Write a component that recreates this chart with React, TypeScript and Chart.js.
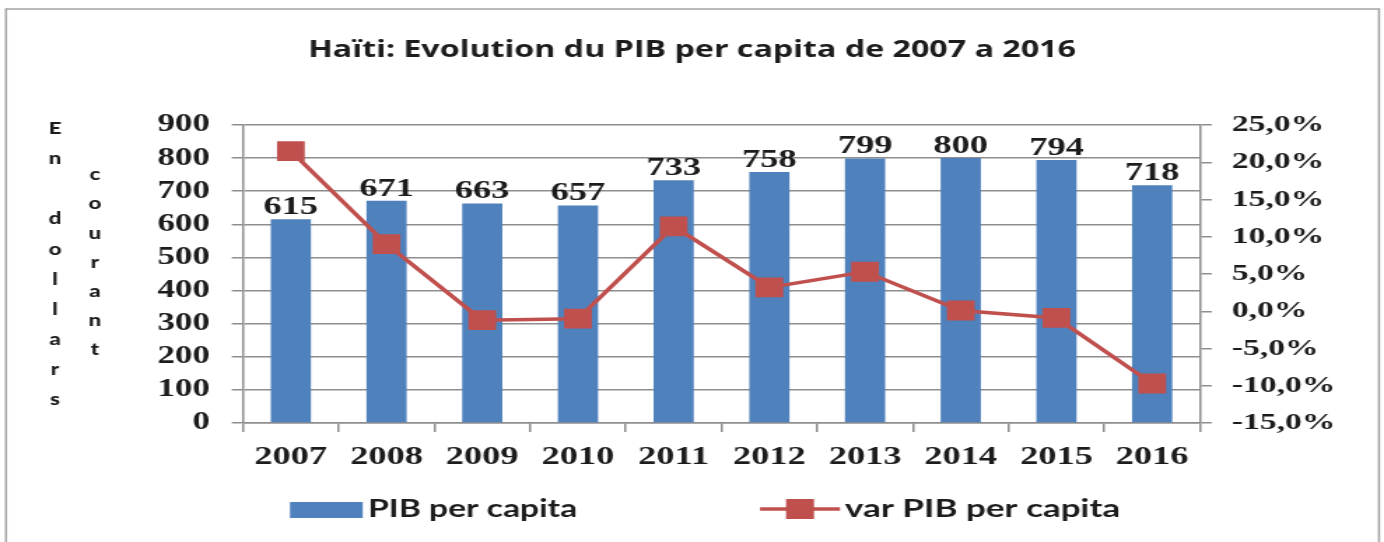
import React, { useEffect, useRef } from 'react';
import { Chart, registerables } from 'chart.js';

Chart.register(...registerables);

// ---- data ----
const categories = ['2007', '2008', '2009', '2010', '2011', '2012', '2013', '2014', '2015', '2016'];
const pibPerCapita = [615, 671, 663, 657, 733, 758, 799, 800, 794, 718];
const varPibPerCapita = [21.5, 9.0, -1.2, -1.0, 11.4, 3.2, 5.3, 0.1, -0.9, -9.7];
const titleText = 'Haïti: Evolution du PIB per capita de 2007 a 2016';
const axisLabelCol1 = ['E', 'n', '', 'd', 'o', 'l', 'l', 'a', 'r', 's'];
const axisLabelCol2 = ['c', 'o', 'u', 'r', 'a', 'n', 't'];
const legendLabels = ['PIB per capita', 'var PIB per capita'];

// ---- geometry (canvas is drawn narrow and stretched horizontally) ----
const OUT_W = 1384;
const OUT_H = 542;
const CW = 989;
const CH = 542;
const SX = OUT_W / CW;
const cx = (refX: number) => refX / SX;

const BLUE = '#4F81BD';
const RED = '#C0504D';
const GRID = '#8e8e8e';
const TXT = '#1c1c1c';
const SERIF = '"Liberation Serif", "Times New Roman", serif';
const SANS = 'Lato, "Open Sans", sans-serif';
const TITLE_FONT = '"Open Sans", Lato, sans-serif';

const PLOT_LEFT = cx(243);
const PLOT_RIGHT = cx(1200);
const PLOT_TOP = 125;
const PLOT_BOTTOM = 423;

const decorPlugin = {
  id: 'decor',
  beforeDraw(chart: any) {
    const ctx = chart.ctx;
    ctx.save();
    ctx.fillStyle = '#ffffff';
    ctx.fillRect(0, 0, CW, CH);
    ctx.strokeStyle = '#a3a3a3';
    ctx.lineWidth = 1.5;
    ctx.strokeRect(cx(6), 9, cx(1379) - cx(6), CH + 20);
    ctx.restore();
  },
  afterDatasetsDraw(chart: any) {
    const ctx = chart.ctx;
    ctx.save();
    const meta = chart.getDatasetMeta(1);
    ctx.font = `bold 26px ${SERIF}`;
    ctx.fillStyle = TXT;
    ctx.textAlign = 'center';
    ctx.textBaseline = 'alphabetic';
    meta.data.forEach((el: any, i: number) => {
      ctx.fillText(String(pibPerCapita[i]), el.x, el.y - 5);
    });
    ctx.restore();
  },
  afterDraw(chart: any) {
    const ctx = chart.ctx;
    ctx.save();
    // title
    ctx.fillStyle = TXT;
    ctx.font = `bold 23px ${TITLE_FONT}`;
    ctx.textAlign = 'center';
    ctx.textBaseline = 'alphabetic';
    ctx.fillText(titleText, cx(692), 57);
    // vertical axis label
    ctx.font = `900 16px ${SANS}`;
    ctx.textBaseline = 'middle';
    axisLabelCol1.forEach((ch, i) => {
      if (ch) ctx.fillText(ch, cx(55), 129 + i * 30.1);
    });
    axisLabelCol2.forEach((ch, i) => {
      ctx.fillText(ch, cx(95), 175 + i * 29.2);
    });
    // legend
    ctx.fillStyle = BLUE;
    ctx.fillRect(cx(290), 502, cx(362.7) - cx(290), 16);
    ctx.fillStyle = TXT;
    ctx.font = `bold 24px ${SANS}`;
    ctx.textAlign = 'left';
    ctx.textBaseline = 'middle';
    ctx.fillText(legendLabels[0], cx(368), 509);
    ctx.strokeStyle = RED;
    ctx.lineWidth = 3.5;
    ctx.beginPath();
    ctx.moveTo(cx(760), 509);
    ctx.lineTo(cx(840), 509);
    ctx.stroke();
    ctx.fillStyle = RED;
    ctx.fillRect(cx(800) - 10, 499, 20, 20);
    ctx.fillStyle = TXT;
    ctx.font = `bold 25px ${SANS}`;
    ctx.fillText(legendLabels[1], cx(845), 509);
    ctx.restore();
  },
};

export default function App() {
  const ref = useRef<HTMLCanvasElement | null>(null);

  useEffect(() => {
    document.body.style.margin = '0';
    const canvas = ref.current;
    if (!canvas) return;
    const chart = new Chart(canvas, {
      type: 'bar',
      data: {
        labels: categories,
        datasets: [
          {
            type: 'line',
            label: legendLabels[1],
            data: varPibPerCapita,
            yAxisID: 'y1',
            borderColor: RED,
            backgroundColor: RED,
            borderWidth: 3.5,
            pointStyle: 'rect',
            pointRadius: 14,
            pointBorderWidth: 0,
            pointBackgroundColor: RED,
            tension: 0,
            order: 0,
          } as any,
          {
            type: 'bar',
            label: legendLabels[0],
            data: pibPerCapita,
            yAxisID: 'y',
            backgroundColor: BLUE,
            borderWidth: 0,
            categoryPercentage: 1,
            barPercentage: 0.42,
            order: 1,
          } as any,
        ],
      },
      options: {
        responsive: false,
        animation: false,
        devicePixelRatio: 1,
        layout: { padding: { top: PLOT_TOP, left: 0, right: 0, bottom: 0 } },
        plugins: {
          legend: { display: false },
          title: { display: false },
          tooltip: { enabled: false },
        },
        scales: {
          x: {
            offset: true,
            grid: {
              display: true,
              offset: true,
              drawOnChartArea: false,
              drawTicks: true,
              tickLength: 9,
              color: GRID,
              lineWidth: 1.5,
            },
            border: { display: true, color: GRID, width: 1.5 },
            ticks: {
              color: TXT,
              font: { family: SERIF, size: 26, weight: 'bold' },
              padding: 10,
              maxRotation: 0,
              autoSkip: false,
            },
            afterFit(scale: any) {
              scale.height = CH - PLOT_BOTTOM;
            },
          },
          y: {
            position: 'left',
            min: 0,
            max: 900,
            ticks: {
              stepSize: 100,
              color: TXT,
              font: { family: SERIF, size: 25, weight: 'bold' },
              padding: PLOT_LEFT - 8 - cx(210),
            },
            grid: { color: GRID, lineWidth: 1.5, tickLength: 8 },
            border: { display: true, color: GRID, width: 1.5 },
            afterFit(scale: any) {
              scale.width = PLOT_LEFT;
            },
          },
          y1: {
            position: 'right',
            min: -15,
            max: 25,
            ticks: {
              stepSize: 5,
              color: TXT,
              font: { family: SERIF, size: 24, weight: 'bold' },
              padding: cx(1231.7) - PLOT_RIGHT - 8.4,
              callback: (v: any) => `${Number(v).toFixed(1).replace('.', ',')}%`,
            },
            grid: { drawOnChartArea: false, color: GRID, lineWidth: 1.5, tickLength: 8.4 },
            border: { display: true, color: GRID, width: 1.5 },
            afterFit(scale: any) {
              scale.width = CW - PLOT_RIGHT;
            },
          },
        },
      } as any,
      plugins: [decorPlugin],
    });
    return () => chart.destroy();
  }, []);

  return (
    <div style={{ width: OUT_W, height: OUT_H, overflow: 'hidden', background: '#fff' }}>
      <canvas
        ref={ref}
        width={CW}
        height={CH}
        style={{ width: `${OUT_W}px`, height: `${OUT_H}px`, display: 'block' }}
      />
    </div>
  );
}
